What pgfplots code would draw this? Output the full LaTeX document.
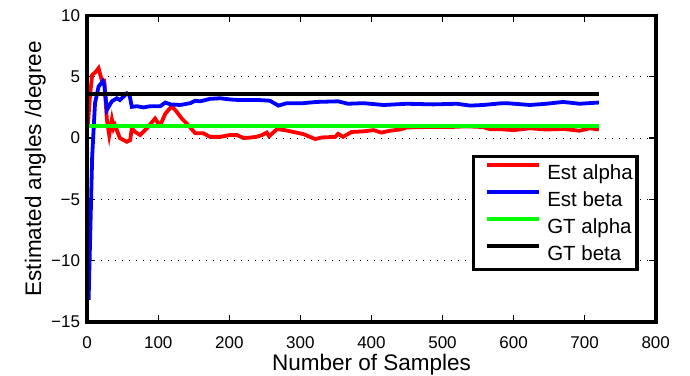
\documentclass[border=0pt]{standalone}
\usepackage{pgfplots}
\pgfplotsset{compat=1.18}
\usepackage{fontspec}
\setmainfont{Liberation Sans}
\begin{document}
\begin{tikzpicture}
\begin{axis}[
  width=568.5pt, height=306.5pt, scale only axis,
  xmin=0, xmax=800, ymin=-15, ymax=10,
  xtick={0,100,...,800},
  ytick={-15,-10,-5,0,5,10},
  yticklabels={−15,−10,−5,0,5,10},
  /pgf/number format/assume math mode=true,
  tick label style={font=\fontsize{17}{20}\selectfont},
  xticklabel style={anchor=north, inner sep=0pt},
  xticklabel shift=14.5pt,
  yticklabel style={anchor=east, inner sep=0pt},
  yticklabel shift=7pt,
  tick align=inside,
  major tick length=6.5pt,
  major tick style={line width=1.2pt, black},
  ymajorgrids,
  grid style={black, line width=1pt, dash pattern=on 1pt off 6pt},
  xlabel={Number of Samples},
  ylabel={Estimated angles /degree},
  label style={font=\fontsize{22.5}{26}\selectfont},
  xlabel style={at={(axis description cs:0.5,-0.158)}, anchor=base},
  ylabel style={at={(axis description cs:-0.0809,0.5)}, anchor=base},
  legend cell align=left,
  legend style={name=leg, at={(axis description cs:0.967,0.172)}, anchor=south east,
    draw=none, fill=white,
    font=\fontsize{20.5}{24}\selectfont,
    inner xsep=4pt, inner ysep=4pt,
    row sep=3.4pt, column sep=6pt,
    nodes={inner sep=0pt, text height=19.3pt, text depth=4.3pt}},
  legend image code/.code={\path (0pt,0pt); \draw[#1] (8pt,7.3pt) -- (60pt,7.3pt);},
]
\addplot[red, line width=3.8pt] coordinates {
(1,1.1) (4,3.5) (7,5.15) (12,5.4) (16,5.7) (20.6,4.7) (24,4.7) (27.7,1.5)
(31,0.25) (34.7,1.5) (37,0.8) (39,1.06) (46,0) (55.8,-0.3) (60.5,-0.16)
(62.8,0.8) (67.5,0.5) (74.5,0.25) (84,0.8) (95.6,1.6) (100,1.2) (104,1.2)
(110,2.0) (119,2.6) (126,2.15) (133,1.6) (140,1.2) (152,0.4) (163,0.4)
(173,0.1) (187,0.1) (201,0.25) (211,0.25) (220,0) (230,0.05) (238,0.1)
(246,0.25) (252.6,0.45) (256,0.15) (267,0.73) (278,0.65) (290,0.5)
(304,0.33) (321,-0.08) (330,0.05) (349,0.1) (353,0.35) (360,0.1) (372,0.5)
(389,0.55) (403,0.65) (414,0.45) (426,0.6) (440,0.7) (450,0.87) (478,0.9)
(510,0.9) (534,0.96) (557,0.9) (567,0.73) (581,0.73) (600,0.65) (623,0.8)
(646,0.7) (670,0.75) (693,0.6) (707,0.8) (720,0.7)
};
\addlegendentry{Est alpha}
\addplot[blue, line width=3.8pt] coordinates {
(2,-13.2) (7,-1.5) (11,2.85) (16,4.2) (22,4.65) (24,4.4) (27.7,2.3)
(34.7,3.0) (41.7,3.25) (46,3.1) (55.8,3.65) (59.6,3.5) (62.8,2.55) (70,2.6)
(79,2.5) (88.6,2.6) (102.7,2.6) (110,2.9) (117,2.75) (131,2.7) (145,2.85)
(152,3.05) (159,3.0) (173,3.2) (187,3.25) (201,3.15) (215,3.1) (229,3.1)
(243,3.1) (257,3.05) (269,2.65) (281,2.85) (304,2.85) (323,2.95) (353,3.0)
(367,2.8) (389,2.85) (417,2.7) (450,2.8) (487,2.75) (520,2.8) (539,2.65)
(557,2.7) (581,2.83) (590,2.85) (623,2.7) (646,2.8) (670,2.95) (693,2.8)
(720,2.9)
};
\addlegendentry{Est beta}
\addplot[green, line width=3.6pt] coordinates {(3,1.0) (720,1.0)};
\addlegendentry{GT alpha}
\addplot[black, line width=3.4pt] coordinates {(3,3.6) (720,3.6)};
\addlegendentry{GT beta}
\end{axis}
\draw[line width=3.6pt, black] (current axis.south west) rectangle (current axis.north east);
\draw[line width=3.5pt, black] (leg.south west) rectangle (leg.north east);
\pgfresetboundingbox
\path ([shift={(-87.2pt,-54pt)}]current axis.south west) rectangle ([shift={(34.3pt,15.5pt)}]current axis.north east);
\end{tikzpicture}
\end{document}
